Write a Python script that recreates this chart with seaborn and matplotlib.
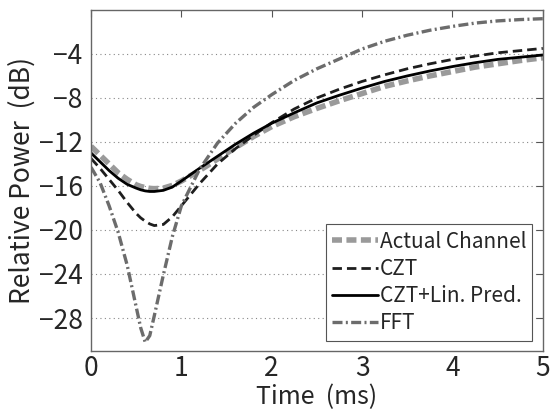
import matplotlib
matplotlib.use("Agg")
import matplotlib.pyplot as plt
import pandas as pd
import seaborn as sns

# values (time in ms, power in dB)
time_ms = [0, 0.1, 0.2, 0.3, 0.4, 0.5, 0.55, 0.6, 0.65, 0.7, 0.8, 0.9, 1.0,
           1.2, 1.4, 1.6, 1.8, 2.0, 2.25, 2.5, 2.75, 3.0, 3.25, 3.5, 3.75,
           4.0, 4.25, 4.5, 4.75, 5.0]
actual = [-12.4, -13.2, -14.0, -14.8, -15.4, -15.9, -16.05, -16.15, -16.22, -16.25,
          -16.2, -15.95, -15.55, -14.6, -13.55, -12.5, -11.5, -10.6, -9.7, -8.95,
          -8.25, -7.6, -6.95, -6.45, -6.0, -5.6, -5.2, -4.9, -4.6, -4.35]
czt = [-13.5, -14.4, -15.4, -16.4, -17.5, -18.5, -18.9, -19.2, -19.45, -19.6,
       -19.5, -18.8, -17.8, -15.8, -14.0, -12.6, -11.4, -10.25, -9.0, -8.0,
       -7.2, -6.5, -5.9, -5.35, -4.9, -4.5, -4.2, -3.9, -3.7, -3.5]
czt_lp = [-13.0, -13.8, -14.6, -15.3, -15.85, -16.2, -16.35, -16.45, -16.5, -16.5,
          -16.4, -16.1, -15.55, -14.4, -13.3, -12.2, -11.2, -10.3, -9.35, -8.45,
          -7.75, -7.1, -6.5, -6.0, -5.55, -5.15, -4.8, -4.5, -4.3, -4.1]
fft = [-14.3, -15.7, -17.8, -20.2, -23.2, -27.0, -28.9, -30.2, -29.6, -27.8,
       -24.1, -20.6, -17.8, -14.5, -12.1, -10.3, -8.85, -7.7, -6.4, -5.35,
       -4.45, -3.55, -2.85, -2.3, -1.85, -1.5, -1.2, -1.0, -0.88, -0.8]

labels = ["Actual Channel", "CZT", "CZT+Lin. Pred.", "FFT"]
series = [actual, czt, czt_lp, fft]
y_ticks = [-28, -24, -20, -16, -12, -8, -4]
x_ticks = [0, 1, 2, 3, 4, 5]

df = pd.concat([pd.DataFrame({"time": time_ms, "power": s, "method": lab})
                for lab, s in zip(labels, series)], ignore_index=True)

sns.set_style("white")
plt.rcParams["font.family"] = ["Noto Sans CJK JP", "DejaVu Sans"]

styles = {
    "Actual Channel": dict(color="#9a9a9a", lw=4.0, dashes=(1.8, 0.8)),
    "CZT": dict(color="#1e1e1e", lw=2.0, dashes=(3.4, 1.8)),
    "CZT+Lin. Pred.": dict(color="black", lw=2.0, dashes=()),
    "FFT": dict(color="#6c6c6c", lw=2.4, dashes=(3.0, 1.0, 0.6, 1.0)),
}

fig, ax = plt.subplots(figsize=(5.5, 4.12), dpi=100)
fig.subplots_adjust(left=0.1655, right=0.987, top=0.976, bottom=0.148)

for lab in labels:
    st = styles[lab]
    sns.lineplot(data=df[df["method"] == lab], x="time", y="power", ax=ax,
                 color=st["color"], lw=st["lw"], label=lab)
    if st["dashes"]:
        ax.lines[-1].set_dashes(st["dashes"])

ax.set_xlim(0, 5)
ax.set_ylim(-31, 0)
ax.set_xticks(x_ticks)
ax.set_yticks(y_ticks)
ax.set_yticklabels(["\u2212%d" % abs(v) for v in y_ticks])
ax.tick_params(direction="in", length=5, width=0.8, color="#555555",
               top=True, right=True, labelsize=19)
ax.tick_params(axis="x", pad=3)
ax.tick_params(axis="y", pad=6)
ax.yaxis.grid(True, linestyle=(0, (1, 3)), color="#888888", lw=0.8)
ax.xaxis.grid(False)
for sp in ax.spines.values():
    sp.set_color("#666666")
    sp.set_linewidth(1.0)

ax.set_xlabel("Time  (ms)", fontsize=18, labelpad=1)
ax.set_ylabel("Relative Power  (dB)", fontsize=19, labelpad=2)

leg = ax.legend(loc="lower right", fontsize=15, frameon=True, fancybox=False,
                framealpha=1, edgecolor="#555555", handlelength=2.2,
                handletextpad=0.1, labelspacing=0.25, borderpad=0.3,
                borderaxespad=0.5)
leg.get_frame().set_linewidth(0.8)

fig.savefig("out.png", dpi=100)
